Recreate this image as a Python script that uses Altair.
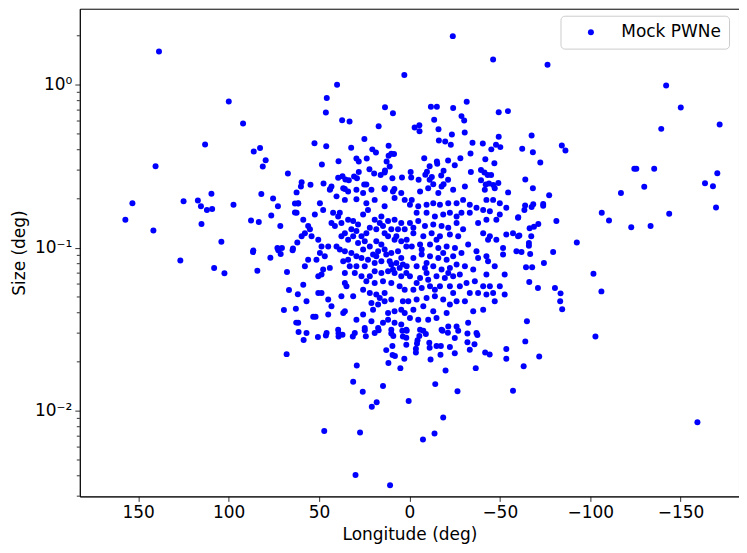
import altair as alt
import pandas as pd

# ---- data (longitude in deg, size in deg) ----
# eastern outskirts (l > 60)
lon_east = [138.5, 99.9, 92.0, 113.0, 82.6, 86.1, 79.5, 81.1, 140.4, 67.2, 62.4, 109.5, 81.9, 153.2, 124.9,
            117.0, 115.3, 112.0, 109.1, 97.3, 75.4, 72.7, 63.3, 61.5, 63.3, 76.4, 157.1, 141.6, 115.0, 87.6,
            83.3, 71.4, 104.0, 86.3, 73.0, 70.5, 64.4, 62.0,
            86.5, 72.5, 71.2, 64.6, 76.9, 126.7, 108.0, 102.3, 84.1, 67.7, 66.6, 61.7, 69.4, 62.8, 62.6, 61.3, 67.9]
size_east = [1.60, 0.79, 0.58, 0.43, 0.41, 0.39, 0.345, 0.316, 0.317, 0.286, 0.219, 0.215, 0.214, 0.188, 0.193,
             0.195, 0.180, 0.171, 0.173, 0.184, 0.201, 0.180, 0.187, 0.187, 0.165, 0.158, 0.149, 0.128, 0.140, 0.147,
             0.144, 0.136, 0.109, 0.0965, 0.100, 0.100, 0.099, 0.108,
             0.0943, 0.0966, 0.0916, 0.0966, 0.0871, 0.0838, 0.0752, 0.0698, 0.0725, 0.0711, 0.0551, 0.0519, 0.0416,
             0.0424, 0.0348, 0.0305, 0.0223]

# western outskirts (l < -60)
lon_west = [-76.4, -142.0, -150.1, -171.6, -139.3, -67.6, -84.3, -86.3, -62.4, -68.3, -72.4, -124.4, -125.5,
            -135.4, -170.3, -64.1, -129.9, -163.5, -167.9, -68.3, -117.0, -77.3, -64.0, -63.6, -68.5, -67.6,
            -74.0, -74.0, -106.4, -110.4, -143.7, -169.6, -60.2, -81.3, -66.5, -68.9, -71.3, -122.7, -133.4,
            -60.8, -67.4, -66.1, -66.1, -92.6, -79.5,
            -62.0, -66.8, -74.4, -64.5, -67.9, -101.8, -66.3, -71.1, -80.5, -83.6, -106.2, -83.4, -84.5, -65.0,
            -64.1, -102.9, -71.8, -63.2, -159.3]
size_west = [1.33, 0.99, 0.726, 0.571, 0.537, 0.489, 0.425, 0.396, 0.405, 0.386, 0.334, 0.306, 0.306,
             0.306, 0.287, 0.263, 0.237, 0.249, 0.239, 0.232, 0.217, 0.210, 0.182, 0.171, 0.185, 0.178,
             0.186, 0.181, 0.164, 0.147, 0.162, 0.177, 0.154, 0.146, 0.132, 0.135, 0.140, 0.134, 0.136,
             0.119, 0.118, 0.107, 0.103, 0.108, 0.0945,
             0.0943, 0.0916, 0.0807, 0.076, 0.076, 0.0695, 0.0618, 0.0568, 0.0568, 0.0526, 0.0541, 0.047, 0.042,
             0.0355, 0.0267, 0.0286, 0.0216, 0.0188, 0.00853]

# central band, large sizes (> 0.23 deg)
lon_top = [-24.0, -46.3, 2.8, 40.0, 45.7, 46.2, 37.2, 33.1, 13.5, 9.1, 17.0, -11.9, -15.2, -24.2, -31.7, -28.8,
           -30.3, -49.4, -54.5, -13.7, -2.9, -5.5, -5.6, -16.1, -30.6, -23.5, 24.9, 52.5, 46.0, 32.2, 20.5, 18.5,
           11.5, -16.3, -19.8, -22.9, -34.9, -40.6, -45.3, -47.9, -50.3, -49.4, 48.4, 39.2, 29.3, 28.0, 23.6,
           22.1, 11.5, 10.0, 8.5, 12.6, 10.9, 13.5, -8.2, -11.2, -15.2, -15.4, -21.4, -28.2, -25.1, -33.8, -42.0,
           -47.0, -34.0, -39.6, -41.5, -45.2, -43.3, -39.6, 59.6, 54.7, 47.5, 37.0, 35.4, 33.5, 30.6, 29.0, 23.8,
           25.0, 19.5, 15.9, 13.7, 9.4, 4.1, -0.7, -1.0, -5.1, -8.8, -9.7, -11.2, -12.4, -13.2, -17.6, -18.9,
           -21.4, -18.9, -42.2, -44.0, -46.4, -49.2, 43.8, 35.7, 13.7, 8.3, 28.0, 39.4]
size_top = [1.99, 1.43, 1.15, 1.0, 0.83, 0.676, 0.607, 0.595, 0.729, 0.67, 0.558, 0.733, 0.733, 0.72, 0.787, 0.643,
            0.604, 0.68, 0.69, 0.61, 0.547, 0.566, 0.52, 0.534, 0.51, 0.496, 0.466, 0.439, 0.42, 0.411, 0.402, 0.385,
            0.423, 0.456, 0.45, 0.429, 0.441, 0.437, 0.402, 0.429, 0.415, 0.48, 0.325, 0.34, 0.353, 0.339, 0.353,
            0.304, 0.367, 0.378, 0.376, 0.339, 0.316, 0.298, 0.355, 0.317, 0.339, 0.328, 0.343, 0.355, 0.321, 0.379, 0.35,
            0.33, 0.292, 0.30, 0.29, 0.28, 0.28, 0.26, 0.253, 0.244, 0.248, 0.275, 0.263, 0.26, 0.274, 0.267, 0.245,
            0.245, 0.286, 0.28, 0.29, 0.267, 0.27, 0.292, 0.27, 0.262, 0.281, 0.293, 0.262, 0.272, 0.246, 0.278, 0.297,
            0.262, 0.246, 0.245, 0.248, 0.243, 0.25, 0.23, 0.23, 0.23, 0.23, 0.292, 0.269]

# central band, eastern half (0 < l < 62)
lon_core_e = [60.0, 43.1, 36.6, 33.9, 29.3, 25.6, 21.0, 13.7, 9.1, 4.5, 2.6, 8.2, 19.2, 23.8, 29.3, 35.7, 40.3,
              44.0, 49.5, 47.7, 52.3, 61.5, 62.4, 58.7, 56.0, 57.8, 59.6, 54.1, 55.0, 42.2, 39.4, 43.1, 41.2, 37.6,
              33.9, 32.1, 35.7, 28.4, 25.6, 22.9, 19.2, 15.5, 11.8, 8.2, 4.5, 2.6, 10.0, 13.7, 18.3, 21.9, 26.5,
              29.3, 33.9, 37.6, 38.5, 13.7, 50.4, 48.6, 44.9, 49.5, 46.8, 51.4, 56.0, 57.8, 40.3, 38.5, 35.7, 32.1,
              33.9, 36.6, 29.3, 28.4, 24.7, 21.9, 18.3, 15.5, 11.8, 8.2, 4.5, 1.7, 6.3, 10.0, 13.7, 17.3, 20.1, 22.9,
              26.5, 24.7, 29.3, 30.2, 33.0, 35.7, 44.0, 47.7, 48.6, 50.4, 19.2, 15.5, 10.9, 7.2, 3.6, 1.7, 4.5, 8.2,
              11.8, 15.5, 19.2, 21.9, 26.5, 23.8, 19.2, 14.6, 10.0, 5.4, 2.6, 35.7, 34.8, 58.7, 50.4, 48.6, 56.9,
              44.9, 43.1, 37.6, 31.1, 25.6, 21.9, 18.3, 16.4, 13.7, 21.0, 17.3, 20.1, 13.7, 10.0, 3.6, 4.5, 2.6, 8.2,
              11.8, 35.7, 36.6, 53.2, 51.9, 44.9, 29.3, 25.6, 21.0, 24.7, 17.3, 14.6, 11.8, 8.2, 4.5, 1.7, 10.0, 39.4,
              61.5, 56.9, 45.8, 30.2, 19.2, 31.1, 23.8, 16.4, 6.3, 9.1, 5.4, 31.1, 14.6, 7.2, 25.6, 18.3, 12.8, 4.5,
              10.0]
size_core_e = [0.238, 0.238, 0.232, 0.222, 0.227, 0.217, 0.227, 0.232, 0.222, 0.217, 0.197, 0.202, 0.197, 0.188,
               0.199, 0.197, 0.207, 0.227, 0.188, 0.171, 0.160, 0.188, 0.164, 0.149, 0.136, 0.123, 0.118, 0.118,
               0.130, 0.164, 0.156, 0.142, 0.136, 0.142, 0.149, 0.130, 0.123, 0.139, 0.160, 0.171, 0.149, 0.156,
               0.146, 0.149, 0.142, 0.130, 0.130, 0.123, 0.130, 0.133, 0.118, 0.127, 0.112, 0.118, 0.164, 0.180,
               0.112, 0.102, 0.102, 0.0931, 0.0889, 0.0847, 0.0847, 0.0771, 0.102, 0.0976, 0.0954, 0.0931, 0.0847,
               0.0828, 0.0889, 0.107, 0.110, 0.102, 0.110, 0.105, 0.118, 0.112, 0.110, 0.102, 0.0954, 0.0931, 0.0976,
               0.0954, 0.0910, 0.0847, 0.0868, 0.0771, 0.0771, 0.0702, 0.0771, 0.0702, 0.0754, 0.0736, 0.0686,
               0.0670, 0.0809, 0.0828, 0.0828, 0.0809, 0.0790, 0.0702, 0.0670, 0.0702, 0.0719, 0.0702, 0.0719,
               0.0670, 0.0670, 0.0624, 0.0609, 0.0624, 0.0609, 0.0581, 0.0554, 0.0609, 0.0581, 0.0595, 0.0529,
               0.0529, 0.0470, 0.0482, 0.0438, 0.0505, 0.0505, 0.0554, 0.0529, 0.0517, 0.0493, 0.0529, 0.0459,
               0.0449, 0.0418, 0.0470, 0.0482, 0.0470, 0.0418, 0.0399, 0.0409, 0.0399, 0.0409, 0.0399, 0.0378,
               0.0378, 0.0390, 0.0363, 0.0390, 0.0355, 0.0323, 0.0323, 0.0347, 0.0363, 0.0347, 0.0339, 0.0315,
               0.0315, 0.0315, 0.0347, 0.0301, 0.0301, 0.0301, 0.0301, 0.118, 0.123, 0.142, 0.130, 0.0736, 0.0754,
               0.146, 0.136, 0.118, 0.0976, 0.0889, 0.0910, 0.0868, 0.0790]

# central band, western half (-62 < l < 2)
lon_core_w = [-5.9, -10.4, -16.0, -17.8, -24.2, -30.7, -41.7, -47.2, -54.6, -42.6, -46.3, -50.0, -53.6, -60.1,
              -1.3, -0.3, -4.9, -9.5, -13.2, -16.9, -21.5, -26.1, -29.7, -33.4, -37.1, -40.8, -44.5, -50.0, -48.1,
              -42.6, -38.0, -33.4, -28.8, -26.1, -22.4, -18.7, -14.1, -9.5, -4.0, -0.3, -4.9, -8.6, -13.2, -17.8,
              -21.5, -26.1, -29.7, -27.0, -22.4, -16.9, -12.3, -7.7, -2.2, 1.5, -40.8, -44.5, -48.1, -53.6, -57.3,
              -60.1, -43.5, -51.8, -59.2, -32.5, -37.1, -1.3, -5.9, -11.4, -16.0, -20.6, -25.2, -28.8, -24.2, -20.6,
              -16.0, -11.4, -6.8, -2.2, 1.5, -4.0, -8.6, -13.2, -17.8, -22.4, -26.1, -30.7, -35.3, -38.0, -42.6,
              -43.5, -47.2, -51.8, -52.7, -42.6, -0.3, -5.9, -10.4, -15.0, -19.6, -24.2, -27.9, -31.6, -36.2,
              -27.9, -22.4, -16.9, -11.4, -6.8, -2.2, -40.8, -44.5, -50.0, -38.0, -33.4, -42.6, -46.3, -52.7, 0.6,
              -4.0, -9.5, -14.1, -18.7, -22.4, -26.1, -30.7, -7.7, -2.2, -13.2, -20.6, -35.3, -40.8, -47.2, -0.3,
              -4.9, -10.4, -15.0, -26.1, -32.5, -37.1, -5.9, -17.8, -21.5, -2.2, -6.8, -15.0, -18.7, -9.5, -4.0,
              -21.5, -14.1, -24.2, -9.5]
size_core_w = [0.222, 0.232, 0.217, 0.238, 0.227, 0.238, 0.227, 0.232, 0.219, 0.197, 0.197, 0.188, 0.176, 0.153,
               0.197, 0.184, 0.180, 0.184, 0.188, 0.184, 0.188, 0.188, 0.197, 0.184, 0.176, 0.171, 0.168, 0.160,
               0.149, 0.149, 0.142, 0.164, 0.164, 0.156, 0.164, 0.160, 0.156, 0.164, 0.164, 0.142, 0.146, 0.136,
               0.139, 0.136, 0.133, 0.142, 0.130, 0.118, 0.121, 0.118, 0.123, 0.118, 0.123, 0.112, 0.123, 0.118,
               0.112, 0.121, 0.123, 0.118, 0.112, 0.100, 0.0954, 0.105, 0.0954, 0.102, 0.105, 0.105, 0.100, 0.102,
               0.100, 0.0931, 0.0889, 0.0847, 0.0868, 0.0889, 0.0910, 0.0868, 0.0771, 0.0771, 0.0754, 0.0771,
               0.0736, 0.0754, 0.0790, 0.0771, 0.0736, 0.0868, 0.0889, 0.0828, 0.0771, 0.0910, 0.0686, 0.0686,
               0.0670, 0.0654, 0.0638, 0.0670, 0.0654, 0.0670, 0.0686, 0.0609, 0.0624, 0.0581, 0.0581, 0.0581,
               0.0581, 0.0568, 0.0554, 0.0581, 0.0581, 0.0581, 0.0529, 0.0529, 0.0517, 0.0529, 0.0517, 0.0470,
               0.0482, 0.0493, 0.0505, 0.0482, 0.0449, 0.0470, 0.0470, 0.0438, 0.0418, 0.0409, 0.0399, 0.0409,
               0.0418, 0.0470, 0.0372, 0.0363, 0.0363, 0.0372, 0.0330, 0.0347, 0.0301, 0.0315, 0.0315, 0.0330,
               0.133, 0.0976, 0.112, 0.0931, 0.0702, 0.0609, 0.0702, 0.0554, 0.0529, 0.0809]

# central band, small sizes (< 0.031 deg)
lon_low = [58.5, 50.6, 46.2, 39.2, 37.0, 39.2, 31.3, 24.1, 24.7, 17.0, 10.0, 8.9, 3.9, 1.5, 3.6, 1.7, 1.7, 9.4,
           12.8, 9.3, 8.0, 11.6, 2.8, 5.0, -5.5, -4.5, -4.2, -3.6, -3.6, -7.7, -9.1, -11.0, -11.2, -15.0, -17.4,
           -17.2, -11.7, -18.3, -21.3, -27.0, -25.1, -22.4, -25.1, -20.0, -32.1, -32.1, -37.6, -36.0, -33.4, -41.9,
           -44.4, -36.7, -53.6, -53.6, -57.3, 29.1, 31.1, 25.8, 14.6, 18.1, 20.8, 0.4, -14.3, -26.6, -18.7, -13.9,
           -7.5, 47.1, 27.3, 29.8, 10.7]
size_low = [0.0272, 0.0284, 0.029, 0.0286, 0.0293, 0.030, 0.0286, 0.0287, 0.0312, 0.0312, 0.0298, 0.0288, 0.031,
            0.031, 0.0286, 0.0281, 0.0255, 0.025, 0.0236, 0.022, 0.0217, 0.0197, 0.0209, 0.0183, 0.0288, 0.0271,
            0.0259, 0.0241, 0.0228, 0.031, 0.0296, 0.0262, 0.0244, 0.025, 0.025, 0.0221, 0.0207, 0.031, 0.0302,
            0.031, 0.028, 0.0247, 0.0226, 0.0177, 0.0298, 0.0264, 0.0292, 0.0256, 0.0237, 0.0228, 0.0222, 0.0183,
            0.024, 0.0209, 0.0133, 0.019, 0.0151, 0.0131, 0.0142, 0.0113, 0.0106, 0.0115, 0.0146, 0.0132, 0.0091,
            0.00727, 0.00668, 0.00752, 0.00737, 0.00404, 0.0035]

series_name = "Mock PWNe"
x_ticks = [150, 100, 50, 0, -50, -100, -150]
y_major = [1.0, 0.1, 0.01]
y_major_labels = ["10⁰", "10⁻¹", "10⁻²"]
y_minor = [0.003, 0.004, 0.005, 0.006, 0.007, 0.008, 0.009,
           0.02, 0.03, 0.04, 0.05, 0.06, 0.07, 0.08, 0.09,
           0.2, 0.3, 0.4, 0.5, 0.6, 0.7, 0.8, 0.9, 2.0]

lon_all = lon_east + lon_west + lon_top + lon_core_e + lon_core_w + lon_low
size_all = size_east + size_west + size_top + size_core_e + size_core_w + size_low
df = pd.DataFrame({"lon": lon_all, "size": size_all, "series": series_name})
minor_df = pd.DataFrame({"size": y_minor})

FONT = "DejaVu Sans"
xscale = alt.Scale(domain=[-182.3, 182.3], reverse=True, nice=False, zero=False)
yscale = alt.Scale(type="log", domain=[0.00299, 2.93], nice=False)

y_label_expr = (
    f"datum.value >= 0.5 ? '{y_major_labels[0]}' : "
    f"(datum.value >= 0.05 ? '{y_major_labels[1]}' : '{y_major_labels[2]}')"
)
x_label_expr = "datum.value < 0 ? '\u2212' + abs(datum.value) : '' + datum.value"

y_axis = alt.Axis(values=y_major, title="Size (deg)", labelExpr=y_label_expr,
                  grid=False, titlePadding=6)

points = alt.Chart(df).mark_circle(size=36, opacity=1).encode(
    x=alt.X("lon:Q", scale=xscale,
            axis=alt.Axis(values=x_ticks, title="Longitude (deg)", labelExpr=x_label_expr,
                          grid=False, titlePadding=6)),
    y=alt.Y("size:Q", scale=yscale, axis=y_axis),
    color=alt.Color("series:N", scale=alt.Scale(range=["#0000ff"]),
                    legend=alt.Legend(title=None, orient="none", legendX=482, legendY=7,
                                      padding=8, symbolOffset=14, labelOffset=22,
                                      symbolType="circle", symbolSize=36, symbolStrokeWidth=0,
                                      labelFontSize=17, labelFont=FONT, labelColor="black",
                                      strokeColor="#cccccc", fillColor="rgba(255,255,255,0.8)",
                                      cornerRadius=4)),
)

minor = alt.Chart(minor_df).mark_rule(color="black", strokeWidth=0.8).encode(
    y=alt.Y("size:Q", scale=yscale, axis=y_axis),
    x=alt.value(-3),
    x2=alt.value(0),
)

chart = (
    alt.layer(points, minor)
    .properties(width=661, height=489,
                padding={"left": 72, "top": 0, "right": 0, "bottom": 50},
                autosize=alt.AutoSizeParams(type="none"))
    .configure_view(stroke="black", strokeWidth=1)
    .configure_axis(labelFont=FONT, titleFont=FONT, labelFontSize=17, titleFontSize=17,
                    titleFontWeight="normal", labelColor="black", titleColor="black",
                    tickColor="black", domainColor="black", tickSize=5, tickWidth=0.8,
                    domainWidth=0.8, labelPadding=3)
)

chart.save("out.html", embed_options={"renderer": "svg", "actions": False})
